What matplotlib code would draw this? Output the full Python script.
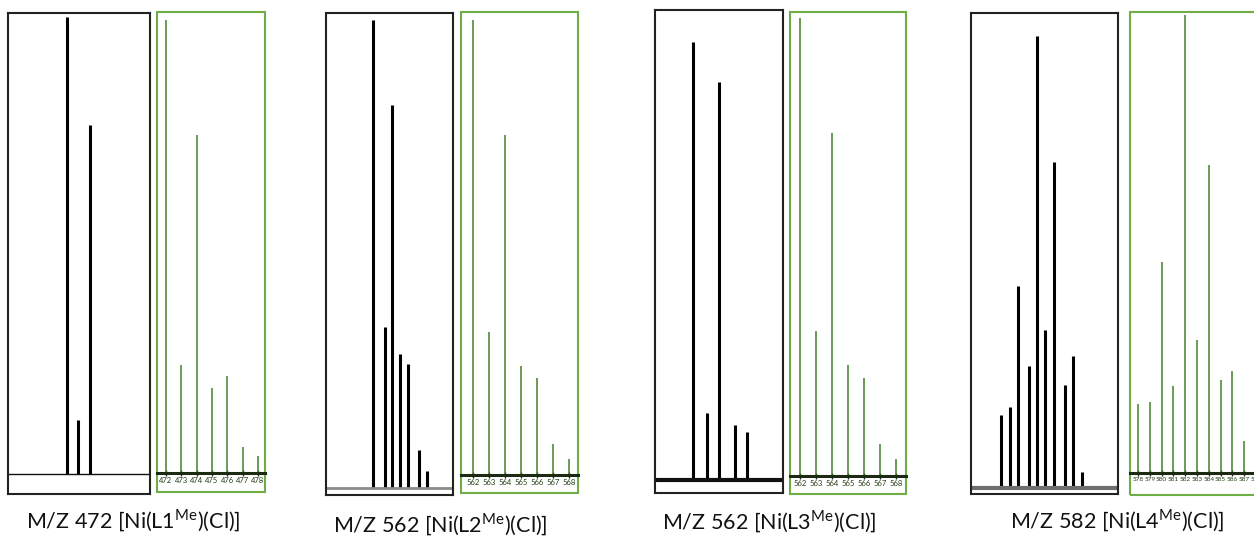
import numpy as np
import matplotlib
matplotlib.use("Agg")
import matplotlib.pyplot as plt
from matplotlib.patches import Rectangle

plt.rcParams['font.family'] = ['Lato', 'DejaVu Sans']
plt.rcParams['mathtext.fontset'] = 'custom'
plt.rcParams['mathtext.rm'] = 'Lato'

exp1_mz = [472.0, 473.0, 474.0]
exp1_int = [100, 11.8, 76.4]
exp2_mz = [562.0, 563.3, 564.1, 565.0, 565.9, 567.1, 568.0]
exp2_int = [100, 34.4, 81.8, 28.6, 26.5, 8.1, 3.6]
exp3_mz = [562.0, 563.0, 563.9, 565.1, 566.0]
exp3_int = [100, 15.3, 90.9, 12.6, 11.0]
exp4_mz = [578.0, 579.0, 579.9, 581.1, 582.0, 582.9, 583.9, 585.1, 586.0, 587.0]
exp4_int = [16.2, 17.9, 44.7, 27.0, 100, 35.0, 72.1, 22.8, 29.2, 3.5]

# simulated isotope patterns (green)
sim1_mz = [472, 473, 474, 475, 476, 477, 478]
sim1_int = [100, 23.8, 74.6, 18.8, 21.4, 5.7, 3.8]
sim2_mz = [562, 563, 564, 565, 566, 567, 568]
sim2_int = [100, 31.4, 74.7, 24.0, 21.3, 6.8, 3.5]
sim3_mz = [562, 563, 564, 565, 566, 567, 568]
sim3_int = [100, 31.7, 74.9, 24.2, 21.4, 7.0, 3.7]
sim4_mz = [578, 579, 580, 581, 582, 583, 584, 585, 586, 587, 588]
sim4_int = [15.1, 15.5, 46.1, 19.0, 100, 29.0, 67.2, 20.3, 22.3, 7.0, 4.0]

captions = [r"M/Z 472 [Ni(L1$^{\mathrm{Me}}$)(Cl)]",
            r"M/Z 562 [Ni(L2$^{\mathrm{Me}}$)(Cl)]",
            r"M/Z 562 [Ni(L3$^{\mathrm{Me}}$)(Cl)]",
            r"M/Z 582 [Ni(L4$^{\mathrm{Me}}$)(Cl)]"]
caption_x = [133, 440, 769, 1117]
caption_y = [521, 525, 522, 521]

W, H = 1254, 542
fig = plt.figure(figsize=(W / 100, H / 100), dpi=100)

# pixel layout: box (x0, y0, x1, y1), baseline y, y of 100 %, anchor x px, px per m/z unit
black_layout = [
    ((8, 13, 150, 494), 474, 17, 67, 11.5, 1.0, '#111111'),
    ((326, 13, 453, 495), 488, 20, 373, 9.0, 2.0, '#8a8a8a'),
    ((655, 10, 783, 493), 480, 42, 693, 13.5, 3.0, '#111111'),
    ((971, 13, 1118, 494), 488, 36, 1001, 9.0, 3.0, '#6e6e6e'),
]
green_layout = [
    ((157, 12, 265, 492), 473, 20, 166, 15.3, 5.5),
    ((461, 12, 578, 493), 475, 20, 473, 16.0, 5.5),
    ((790, 12, 906, 494), 476, 18, 800, 16.0, 5.5),
    ((1130, 12, 1270, 495), 473, 15, 1138, 11.8, 4.6),
]


def make_axes(box, base, top, ax_px, ppu, mz0):
    x0, y0, x1, y1 = box
    ax = fig.add_axes([x0 / W, 1 - y1 / H, (x1 - x0) / W, (y1 - y0) / H])
    k = (base - top) / 100.0
    ax.set_ylim(-(y1 - base) / k, (base - y0) / k)
    ax.set_xlim(mz0 - (ax_px - x0) / ppu, mz0 + (x1 - ax_px) / ppu)
    return ax


exp_mz = [exp1_mz, exp2_mz, exp3_mz, exp4_mz]
exp_int = [exp1_int, exp2_int, exp3_int, exp4_int]
sim_mz = [sim1_mz, sim2_mz, sim3_mz, sim4_mz]
sim_int = [sim1_int, sim2_int, sim3_int, sim4_int]

for i in range(4):
    box, base, top, apx, ppu, blw, bcol = black_layout[i]
    ax = make_axes(box, base, top, apx, ppu, exp_mz[i][0])
    ax.vlines(exp_mz[i], 0, exp_int[i], color='black', lw=2.2)
    ax.axhline(0, color=bcol, lw=blw)
    ax.set_xticks([])
    ax.set_yticks([])
    for s in ax.spines.values():
        s.set_color('#222222')
        s.set_linewidth(1.5)

    box, base, top, apx, ppu, lsize = green_layout[i]
    ax = make_axes(box, base, top, apx, ppu, sim_mz[i][0])
    ax.vlines(sim_mz[i], 0, sim_int[i], color='#44802a', lw=1.1)
    for s in ['top', 'left', 'right']:
        ax.spines[s].set_visible(False)
    ax.spines['bottom'].set_position(('data', 0))
    ax.spines['bottom'].set_color('#1c2a12')
    ax.spines['bottom'].set_linewidth(2.2)
    ax.add_patch(Rectangle((0, 0), 1, 1, transform=ax.transAxes, fill=False,
                           edgecolor='#70ad47', lw=1.5, clip_on=False))
    ax.set_yticks([])
    ax.set_xticks(sim_mz[i])
    ax.set_xticklabels([str(m) for m in sim_mz[i]])
    ax.tick_params(axis='x', direction='inout', length=4, width=1,
                   color='#1c2a12', labelsize=lsize, labelcolor='#1f3a12', pad=1)

    fig.text(caption_x[i] / W, 1 - caption_y[i] / H, captions[i],
             ha='center', va='center', fontsize=15.5, color='#111111')

fig.savefig('out.png', dpi=100)
